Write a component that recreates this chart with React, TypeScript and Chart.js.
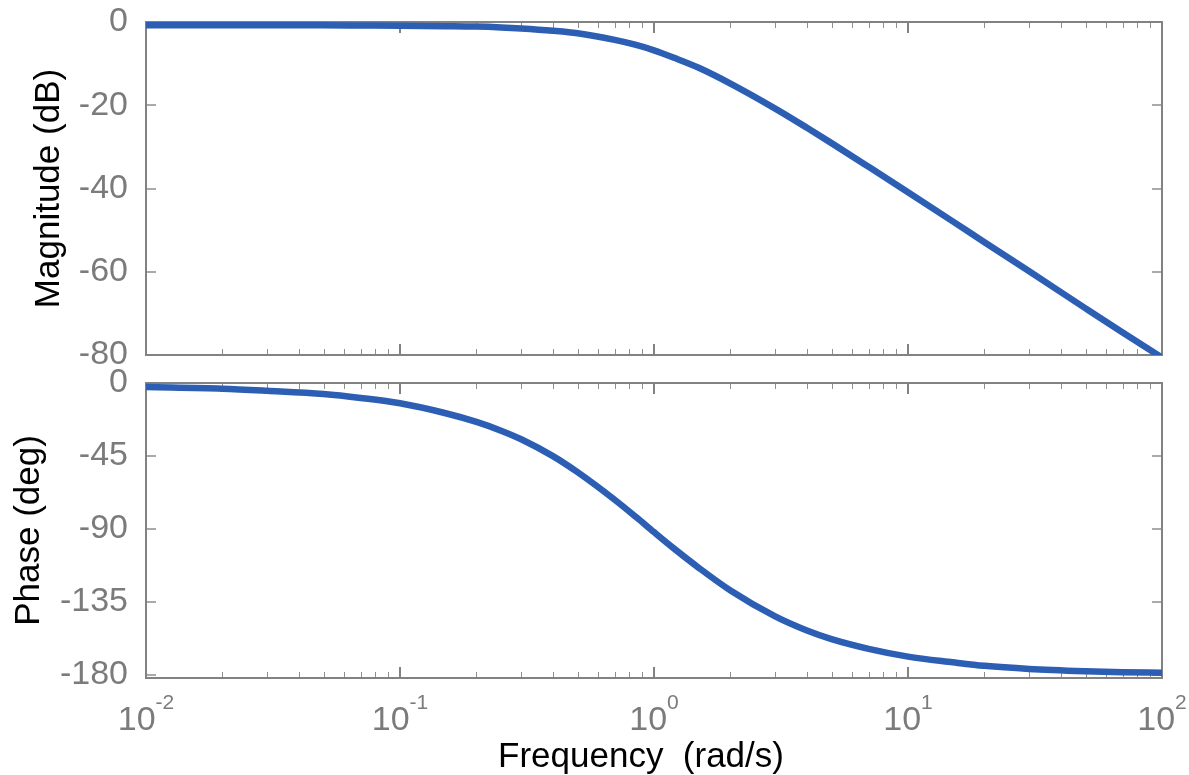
import { useEffect, useRef } from 'react';
import { Chart, registerables } from 'chart.js';

Chart.register(...registerables);

// ---- data ----
const frequencies = [0.01, 0.02, 0.03, 0.05, 0.07, 0.1, 0.15, 0.2, 0.25, 0.3, 0.4, 0.5, 0.7, 0.85, 1, 1.2, 1.5, 2, 3, 4, 5, 7, 10, 15, 20, 30, 50, 70, 100];
const magnitudeDb = [-0.8, -0.8, -0.8, -0.8, -0.85, -0.9, -1.0, -1.1, -1.3, -1.55, -2.1, -2.7, -4.3, -5.5, -6.8, -8.6, -11.0, -14.8, -20.8, -25.4, -29.1, -34.8, -40.9, -47.9, -52.9, -59.9, -68.8, -74.6, -80.6];
const phaseDeg = [-2.5, -3.5, -4.8, -6.8, -9.2, -12.5, -18.5, -24, -29.4, -34.7, -45.1, -55, -72, -82.7, -92, -102.2, -114, -128, -144, -152.7, -158, -164, -168.8, -172.3, -174.5, -176.4, -177.8, -178.4, -178.8];
const magnitudeTicks = [0, -20, -40, -60, -80];
const phaseTicks = [0, -45, -90, -135, -180];
const decadeExponents = [-2, -1, 0, 1, 2];
const minorMultipliers = [2, 3, 4, 5, 6, 7, 8, 9];

const magnitudeTitle = 'Magnitude (dB)';
const phaseTitle = 'Phase (deg)';
const frequencyTitle = 'Frequency  (rad/s)';

const FONT = "'Liberation Sans', Arial, Helvetica, sans-serif";
const TICK_TEXT = '#7b7b7b';
const AXIS_COLOR = '#828282';
const TICK_COLOR = '#8e8e8e';
const LINE_COLOR = '#2c5fb4';

type PanelOpts = {
  yTitle: string;
  yTitleX: number;
  xLabels: boolean;
  yTicks: number[];
};

function framePlugin(p: PanelOpts) {
  return {
    id: 'bodeFrame',
    beforeDatasetsDraw(chart: any) {
      const { ctx, chartArea: a, scales } = chart;
      const xs = scales.x;
      const ys = scales.y;
      ctx.save();
      ctx.lineCap = 'butt';
      // minor x ticks
      ctx.strokeStyle = TICK_COLOR;
      ctx.lineWidth = 1;
      for (const e of decadeExponents.slice(0, -1)) {
        for (const m of minorMultipliers) {
          const x = Math.round(xs.getPixelForValue(m * Math.pow(10, e))) + 0.5;
          ctx.beginPath();
          ctx.moveTo(x, a.bottom);
          ctx.lineTo(x, a.bottom - 6);
          ctx.moveTo(x, a.top);
          ctx.lineTo(x, a.top + 6);
          ctx.stroke();
        }
      }
      // major x ticks
      ctx.lineWidth = 2;
      ctx.strokeStyle = AXIS_COLOR;
      for (const e of decadeExponents) {
        const x = Math.round(xs.getPixelForValue(Math.pow(10, e)));
        ctx.beginPath();
        ctx.moveTo(x, a.bottom);
        ctx.lineTo(x, a.bottom - 11);
        ctx.moveTo(x, a.top);
        ctx.lineTo(x, a.top + 11);
        ctx.stroke();
      }
      // y ticks (left and right)
      ctx.strokeStyle = TICK_COLOR;
      ctx.lineWidth = 1.5;
      for (const v of p.yTicks) {
        const y = Math.round(ys.getPixelForValue(v));
        ctx.beginPath();
        ctx.moveTo(a.left, y);
        ctx.lineTo(a.left + 10, y);
        ctx.moveTo(a.right, y);
        ctx.lineTo(a.right - 10, y);
        ctx.stroke();
      }
      // box
      ctx.strokeStyle = AXIS_COLOR;
      ctx.lineWidth = 2;
      ctx.strokeRect(a.left, a.top, a.right - a.left, a.bottom - a.top);
      ctx.restore();
    },
    afterDraw(chart: any) {
      const { ctx, chartArea: a, scales } = chart;
      ctx.save();
      // y title
      ctx.fillStyle = '#000000';
      ctx.font = `35px ${FONT}`;
      ctx.textAlign = 'center';
      ctx.textBaseline = 'alphabetic';
      ctx.translate(p.yTitleX, (a.top + a.bottom) / 2);
      ctx.rotate(-Math.PI / 2);
      ctx.fillText(p.yTitle, 0, 0);
      ctx.restore();

      if (p.xLabels) {
        const xs = scales.x;
        ctx.save();
        ctx.fillStyle = TICK_TEXT;
        ctx.textBaseline = 'alphabetic';
        ctx.textAlign = 'left';
        for (const e of decadeExponents) {
          const cx = xs.getPixelForValue(Math.pow(10, e));
          ctx.font = `34px ${FONT}`;
          const base = '10';
          const w1 = ctx.measureText(base).width;
          ctx.font = `21px ${FONT}`;
          const exp = String(e);
          const w2 = ctx.measureText(exp).width;
          const left = cx - (w1 + w2) / 2;
          ctx.font = `34px ${FONT}`;
          ctx.fillText(base, left, a.bottom + 52);
          ctx.font = `21px ${FONT}`;
          ctx.fillText(exp, left + w1, a.bottom + 31);
        }
        ctx.fillStyle = '#000000';
        ctx.font = `35px ${FONT}`;
        ctx.textAlign = 'center';
        ctx.fillText(frequencyTitle, 641, a.bottom + 89);
        ctx.restore();
      }
    },
  };
}

function panelConfig(values: number[], yMin: number, yMax: number, pad: any, p: PanelOpts) {
  return {
    type: 'line' as const,
    data: {
      datasets: [
        {
          data: frequencies.map((f, i) => ({ x: f, y: values[i] })),
          borderColor: LINE_COLOR,
          borderWidth: 6.5,
          pointRadius: 0,
          fill: false,
          cubicInterpolationMode: 'monotone' as const,
          borderCapStyle: 'butt' as const,
          borderJoinStyle: 'round' as const,
        },
      ],
    },
    options: {
      responsive: false,
      animation: false as const,
      devicePixelRatio: 1,
      events: [],
      layout: { padding: pad },
      plugins: { legend: { display: false }, tooltip: { enabled: false } },
      scales: {
        x: { type: 'logarithmic' as const, min: 0.01, max: 100, display: false },
        y: {
          type: 'linear' as const,
          min: yMin,
          max: yMax,
          afterBuildTicks: (s: any) => {
            s.ticks = p.yTicks.map((v) => ({ value: v }));
          },
          afterFit: (s: any) => {
            s.width = 146;
          },
          grid: { display: false, drawTicks: false },
          border: { display: false },
          ticks: {
            color: TICK_TEXT,
            font: { family: FONT, size: 34 },
            padding: 18,
            callback: (v: any) => String(v),
          },
        },
      },
    },
    plugins: [framePlugin(p)],
  };
}

export default function App() {
  const topRef = useRef<HTMLCanvasElement>(null);
  const botRef = useRef<HTMLCanvasElement>(null);

  useEffect(() => {
    const top = new Chart(
      topRef.current as HTMLCanvasElement,
      panelConfig(magnitudeDb, -80, 0, { top: 52, bottom: 45, left: 0, right: 27 }, {
        yTitle: magnitudeTitle,
        yTitleX: 59,
        xLabels: false,
        yTicks: magnitudeTicks,
      }) as any
    );
    const bot = new Chart(
      botRef.current as HTMLCanvasElement,
      panelConfig(phaseDeg, -182, 0, { top: 43, bottom: 97, left: 0, right: 27 }, {
        yTitle: phaseTitle,
        yTitleX: 39,
        xLabels: true,
        yTicks: phaseTicks,
      }) as any
    );
    return () => {
      top.destroy();
      bot.destroy();
    };
  }, []);

  return (
    <div style={{ position: 'absolute', left: 0, top: 0, width: 1189, height: 775, background: '#ffffff', overflow: 'hidden' }}>
      <canvas ref={topRef} width={1189} height={430} style={{ position: 'absolute', left: 0, top: -30, width: 1189, height: 430 }} />
      <canvas ref={botRef} width={1189} height={435} style={{ position: 'absolute', left: 0, top: 340, width: 1189, height: 435 }} />
    </div>
  );
}
